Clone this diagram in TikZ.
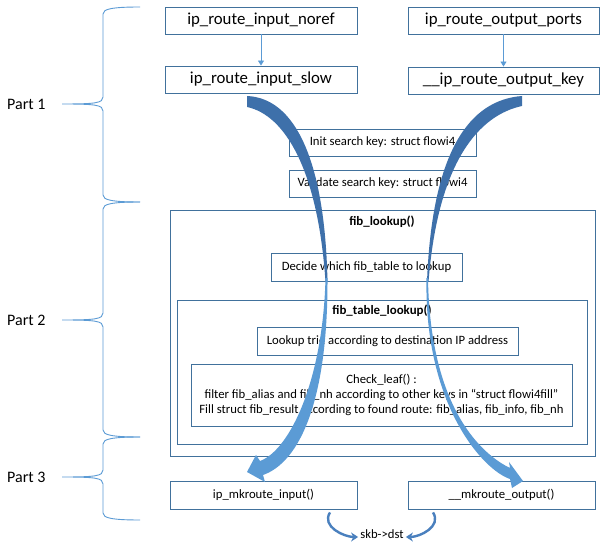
\documentclass[tikz,border=0pt]{standalone}
\usepackage{fontspec}
\setmainfont{Carlito}
\usetikzlibrary{arrows.meta}
\definecolor{boxc}{RGB}{65,113,156}
\definecolor{lightb}{RGB}{91,155,213}
\definecolor{darkb}{RGB}{62,112,170}
\definecolor{curvc}{RGB}{74,128,190}
\newcommand{\mybrace}[3]{%
  \draw[brc] (140,#1) .. controls (112,#1) and (103,{#1+2}) .. (103,{#1+7})
    -- (103,{#2-7}) .. controls (103,{#2-1}) and (96,#2) .. (62,#2)
    .. controls (96,#2) and (103,{#2+1}) .. (103,{#2+7})
    -- (103,{#3-7}) .. controls (103,{#3-2}) and (112,#3) .. (140,#3);}
\begin{document}
\begin{tikzpicture}[x=1pt,y=-1pt,
  bigf/.style={font=\fontsize{16.8}{20}\selectfont},
  smf/.style={font=\fontsize{12.7}{15}\selectfont},
  bx/.style={draw=boxc, line width=0.9pt, inner sep=0pt},
  bigbox/.style={bx, bigf, minimum width=192pt, minimum height=27pt},
  smbox/.style={bx, smf, minimum height=28pt},
  ttl/.style={font=\fontsize{12.9}{15}\selectfont\bfseries, inner sep=0pt},
  brc/.style={draw=lightb, line width=0.9pt},
  partlbl/.style={font=\fontsize{16}{19}\selectfont, anchor=west, inner sep=0pt},
  sarrow/.style={draw=lightb, line width=0.9pt, -{Triangle[width=6pt,length=5pt]}},
  carrow/.style={draw=curvc, line width=2.4pt, -{Stealth[width=9pt,length=7pt]}}]
\useasboundingbox (0,0) rectangle (611,545);
\fill[white] (0,0) rectangle (611,545);

% braces and labels
\mybrace{7}{104}{202}
\mybrace{202}{320}{437}
\mybrace{437}{477}{520}
\node[partlbl] (p1) at (7,104) {Part 1};
\node[partlbl] (p2) at (7,320) {Part 2};
\node[partlbl] (p3) at (7,477) {Part 3};

% part 1
\node[bigbox] (noref) at (261,20.5) {ip\_route\_input\_noref};
\node[bigbox, minimum width=191pt] (ports) at (503.5,20.5) {ip\_route\_output\_ports};
\node[bigbox] (slow) at (261,79.5) {ip\_route\_input\_slow};
\node[bigbox, minimum width=191pt] (key) at (503.5,80.5) {\_\_ip\_route\_output\_key};
\draw[sarrow] (noref) -- (slow);
\draw[sarrow] (ports) -- (key);
\node[smbox, minimum width=187pt, minimum height=27pt] (init) at (382.5,142.5) {Init search key: struct flowi4};
\node[smbox, minimum width=187pt, minimum height=27pt] (valid) at (382.5,183.5) {Validate search key: struct flowi4};

% part 2
\node[bx, minimum width=425pt, minimum height=246pt] (fibl) at (382.5,333) {};
\node[ttl] (fiblt) at (382,222) {fib\_lookup()};
\node[smbox, minimum width=191pt] (decide) at (366.5,267) {Decide which fib\_table to lookup};
\node[bx, minimum width=410pt, minimum height=144pt] (fibt) at (382,372) {};
\node[ttl] (fibtt) at (382,311) {fib\_table\_lookup()};
\node[smbox, minimum width=261pt] (trie) at (387.5,341) {Lookup trie according to destination IP address};
\node[bx, smf, minimum width=381pt, minimum height=62pt, align=center] (check) at (381.5,395)
  {Check\_leaf() :\\filter fib\_alias and fib\_nh according to other keys in “struct flowi4fill”\\Fill struct fib\_result according to found route: fib\_alias, fib\_info, fib\_nh};

% part 3
\node[smbox, minimum width=187pt] (mkin) at (263.5,495) {ip\_mkroute\_input()};
\node[smbox, minimum width=187pt] (mkout) at (501.5,495) {\_\_mkroute\_output()};
\node[smf, inner sep=2pt] (skb) at (382,534) {skb->dst};
\draw[carrow] ([xshift=66.5pt,yshift=-3pt]mkin.south) .. controls +(-9,14) and +(-14,0) .. ([yshift=-3pt]skb.west);
\draw[carrow] ([xshift=-68.5pt,yshift=-3pt]mkout.south) .. controls +(9,14) and +(14,0) .. ([yshift=-3pt]skb.east);

% big curved arrows: left
\fill[darkb] (247,96) .. controls (295,98) and (325,160) .. (327.5,282)
  -- (325.5,282) .. controls (318,170) and (285,115) .. (247,107) -- cycle;
\fill[lightb] (325.5,278) .. controls (323,380) and (290,450) .. (260,461)
  -- (256,455) -- (247,472) -- (265,482) -- (263,475)
  .. controls (300,462) and (328,400) .. (327.5,278) -- cycle;
% big curved arrows: right
\fill[darkb] (522,96) .. controls (470,100) and (432,150) .. (427,282)
  -- (428.5,282) .. controls (438,160) and (480,115) .. (522,106) -- cycle;
\fill[lightb] (428,278) .. controls (430,410) and (483,455) .. (510,468)
  -- (509,462) -- (523,481) -- (512,488) -- (510,479)
  .. controls (483,470) and (424,405) .. (426.5,278) -- cycle;
\end{tikzpicture}
\end{document}
